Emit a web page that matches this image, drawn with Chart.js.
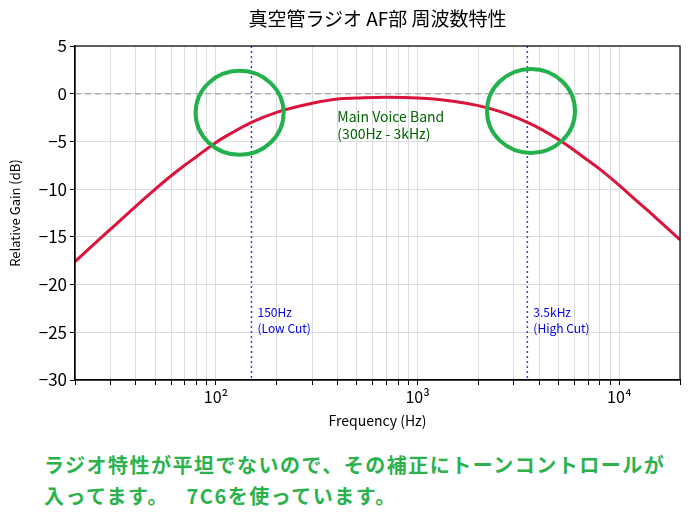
<!DOCTYPE html>
<html>
<head>
<meta charset="utf-8">
<script src="https://cdn.jsdelivr.net/npm/chart.js@4.4.1/dist/chart.umd.min.js"></script>
<style>
  body { margin: 0; background: #fff; }
  #wrap { position: relative; width: 690px; height: 517px; font-family: "Noto Sans CJK JP", "Noto Sans", sans-serif; }
  #title { position: absolute; left: 75px; width: 605px; top: 4px; text-align: center; font-size: 19px; color: #000; }
  #chart { position: absolute; left: 0; top: 0; }
  #caption { position: absolute; left: 44px; top: 449px; font-size: 20px; font-weight: bold; color: #2bb24c; line-height: 31px; letter-spacing: 1.5px; }
</style>
</head>
<body>
<div id="wrap">
  <canvas id="chart" width="690" height="440"></canvas>
  <div id="title">真空管ラジオ AF部 周波数特性</div>
  <div id="caption">ラジオ特性が平坦でないので、その補正にトーンコントロールが<br>入ってます。　 7C6を使っています。</div>
</div>
<script>
// 読み取った周波数特性 (Hz / dB)
const freqs = [20, 25, 30, 40, 50, 60, 70, 80, 100, 120, 150, 200, 300, 400, 500, 700,
  1000, 1500, 2000, 2500, 3000, 3500, 4000, 5000, 6000, 7000, 8000, 10000, 12000, 15000, 20000];
const gains = [-17.6, -15.7, -14.2, -11.8, -10.0, -8.6, -7.5, -6.6, -5.1, -4.1, -3.0, -1.95, -1.0, -0.55, -0.46, -0.37,
  -0.44, -0.78, -1.25, -1.8, -2.4, -3.0, -3.6, -4.8, -5.95, -7.0, -7.9, -9.6, -11.1, -12.9, -15.3];

const cutFreqs = [150, 3500];
const cutLabels = [["150Hz", "(Low Cut)"], ["3.5kHz", "(High Cut)"]];
const circleFreqs = [131, 3650];
const circleGains = [-2.0, -1.8];
const bandLabel = ["Main Voice Band", "(300Hz - 3kHz)"];

const xTicks = [];
for (let d = 10; d <= 10000; d *= 10) {
  for (let m = 1; m <= 9; m++) {
    const v = d * m;
    if (v >= 20 && v <= 20000) xTicks.push(v);
  }
}
xTicks.push(20000);
const sup = { 100: "10²", 1000: "10³", 10000: "10⁴" };
const FONT = "'Noto Sans CJK JP', 'Noto Sans', sans-serif";

const overlay = {
  id: "overlay",
  beforeDatasetsDraw(chart) {
    const { ctx, chartArea: a, scales: { x, y } } = chart;
    ctx.save();
    ctx.beginPath(); ctx.rect(a.left, a.top, a.width, a.height); ctx.clip();
    // 0 dB 基準線
    ctx.strokeStyle = "#b0b0b0"; ctx.lineWidth = 1.5; ctx.setLineDash([6, 4]);
    ctx.beginPath(); ctx.moveTo(a.left, y.getPixelForValue(0)); ctx.lineTo(a.right, y.getPixelForValue(0)); ctx.stroke();
    // カットオフ線
    ctx.strokeStyle = "#3a3aff"; ctx.lineWidth = 1.5; ctx.setLineDash([2, 3]);
    cutFreqs.forEach(f => {
      const px = x.getPixelForValue(f);
      ctx.beginPath(); ctx.moveTo(px, a.top); ctx.lineTo(px, a.bottom); ctx.stroke();
    });
    ctx.restore();
  },
  afterDatasetsDraw(chart) {
    const { ctx, scales: { x, y } } = chart;
    ctx.save();
    ctx.font = "12px " + FONT;
    ctx.textBaseline = "top";
    ctx.fillStyle = "#0000ee";
    cutFreqs.forEach((f, i) => {
      const px = x.getPixelForValue(f) + 6;
      const py = y.getPixelForValue(-22.3);
      cutLabels[i].forEach((t, j) => ctx.fillText(t, px, py + j * 16));
    });
    ctx.font = "14px " + FONT;
    ctx.fillStyle = "#006400";
    bandLabel.forEach((t, j) => ctx.fillText(t, x.getPixelForValue(400), y.getPixelForValue(-1.7) + j * 17));
    // 丸印
    ctx.strokeStyle = "#22b14c"; ctx.lineWidth = 4;
    circleFreqs.forEach((f, i) => {
      ctx.beginPath();
      ctx.ellipse(x.getPixelForValue(f), y.getPixelForValue(circleGains[i]), 44, 42, 0, 0, Math.PI * 2);
      ctx.stroke();
    });
    ctx.restore();
  }
};

new Chart(document.getElementById("chart"), {
  type: "line",
  data: {
    datasets: [{
      data: freqs.map((f, i) => ({ x: f, y: gains[i] })),
      borderColor: "#dc143c",
      borderWidth: 3,
      pointRadius: 0,
      tension: 0.4,
      cubicInterpolationMode: "monotone"
    }]
  },
  options: {
    responsive: false,
    animation: false,
    layout: { padding: { top: 46, right: 10, left: 0, bottom: 0 } },
    plugins: { legend: { display: false }, tooltip: { enabled: false } },
    scales: {
      x: {
        type: "logarithmic",
        min: 20, max: 20000,
        afterBuildTicks: s => { s.ticks = xTicks.map(v => ({ value: v })); },
        afterFit: s => { s.height = 60; },
        ticks: {
          autoSkip: false, maxRotation: 0, color: "#000", padding: 2,
          font: { size: 16, family: FONT },
          callback: v => sup[v] || ""
        },
        grid: { color: "#dcdcdc", tickLength: 5, tickColor: "#000" },
        border: { color: "#000", width: 1.2 },
        title: { display: true, text: "Frequency (Hz)", color: "#000", font: { size: 14, family: FONT }, padding: { top: 0, bottom: 11 } }
      },
      y: {
        min: -30, max: 5,
        afterFit: s => { s.width = 75; },
        ticks: {
          stepSize: 5, color: "#000", padding: 3,
          font: { size: 17, family: FONT },
          callback: v => String(v).replace("-", "\u2212")
        },
        grid: { color: "#dcdcdc", tickLength: 5, tickColor: "#000" },
        border: { color: "#000", width: 1.2 },
        title: { display: true, text: "Relative Gain (dB)", color: "#000", font: { size: 13, family: FONT }, padding: { top: 7, bottom: 0 } }
      }
    }
  },
  plugins: [overlay, {
    id: "frame",
    afterDraw(chart) {
      const { ctx, chartArea: a } = chart;
      ctx.save(); ctx.strokeStyle = "#000"; ctx.lineWidth = 1.2;
      ctx.strokeRect(a.left, a.top, a.width, a.height); ctx.restore();
    }
  }]
});
</script>
</body>
</html>
